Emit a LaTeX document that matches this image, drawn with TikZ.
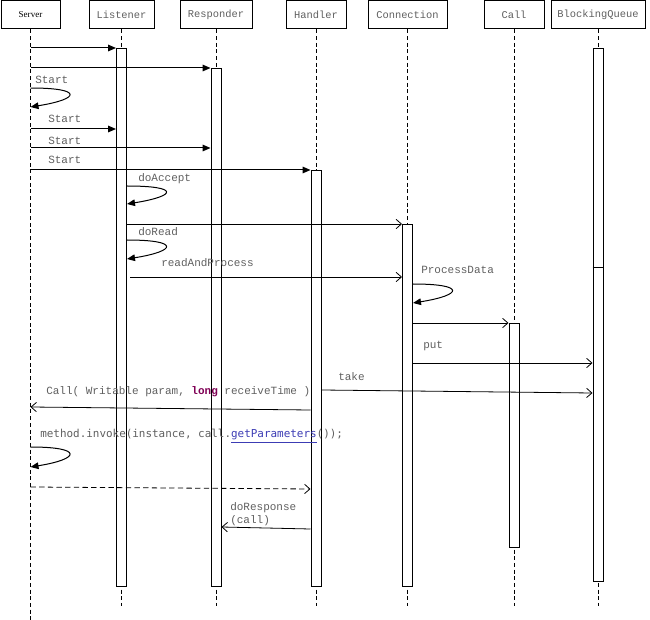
\documentclass[tikz,border=0pt]{standalone}
\usepackage{fontspec}
\setmainfont{Liberation Serif}
\setmonofont{Liberation Mono}
\newfontfamily\codefont{DejaVu Sans Mono}
\usetikzlibrary{arrows.meta}
\definecolor{msggray}{RGB}{95,95,95}
\definecolor{kwpurple}{RGB}{127,0,85}
\definecolor{linkblue}{RGB}{60,60,180}
\begin{document}
\begin{tikzpicture}[x=0.75pt,y=0.75pt,yscale=-1,xscale=1,
  obj/.style={draw,line width=0.75pt,minimum height=21pt,inner sep=0pt,font=\ttfamily\fontsize{7.8}{9}\selectfont,text=msggray},
  bar/.style={draw,fill=white,line width=0.75pt,minimum width=7.5pt,inner sep=0pt,anchor=north},
  lifeline/.style={line width=0.75pt,dash pattern=on 3pt off 2pt},
  sync/.style={line width=0.75pt,-{Triangle[length=6pt,width=5pt]}},
  async/.style={line width=0.6pt,-{Straight Barb[length=4pt,width=7pt]}},
  msg/.style={font=\ttfamily\fontsize{8.25}{9.4}\selectfont,text=msggray,inner sep=0pt,anchor=west}]
\useasboundingbox (0,0) rectangle (650,620);
\node[obj,minimum width=44.25pt,font=\rmfamily\fontsize{6.8}{8}\selectfont,text=black] (server) at (30.5,15) {Server};
\node[obj,minimum width=48.75pt] (listener) at (121.5,15) {Listener};
\node[obj,minimum width=54pt] (responder) at (216,15) {Responder};
\node[obj,minimum width=45pt] (handler) at (316,15) {Handler};
\node[obj,minimum width=59.25pt] (connection) at (407.5,15) {Connection};
\node[obj,minimum width=45pt] (call) at (514,15) {Call};
\node[obj,minimum width=70.5pt] (queue) at (598,15) {BlockingQueue};
\draw[lifeline] (server.south) -- ++(0,591);
\foreach \n in {listener,responder,handler,connection,call,queue}
  \draw[lifeline] (\n.south) -- ++(0,576);
\node[bar,minimum height=403.5pt] (listenerbar) at (listener.south |- 0,48) {};
\node[bar,minimum height=388.5pt] (responderbar) at (responder.south |- 0,68) {};
\node[bar,minimum height=312pt] (handlerbar) at (handler.south |- 0,170) {};
\node[bar,minimum height=271.5pt] (connectionbar) at (connection.south |- 0,224) {};
\node[bar,minimum height=168pt] (callbar) at (call.south |- 0,323) {};
\node[bar,minimum height=399.75pt] (queuebar) at (queue.south |- 0,48) {};
\draw[line width=0.75pt] (queuebar.west |- 0,268) -- (queuebar.east |- 0,268);
\draw[sync] (server.south |- listenerbar.north) -- (listenerbar.north west);
\draw[sync] (server.south |- responderbar.north) -- (responderbar.north west);
\node[msg] (start0) at (35,80) {Start};
\draw[sync] (server.south |- 0,88) .. controls +(53,0) and +(50,-8) .. (server.south |- 0,107);
\node[msg] (start1) at (48,119) {Start};
\draw[sync] (server.south |- 0,129) -- (listenerbar.west |- 0,129);
\node[msg] (start2) at (48,141) {Start};
\draw[sync] (server.south |- 0,148) -- (responderbar.west |- 0,148);
\node[msg] (start3) at (48,160) {Start};
\draw[sync] (server.south |- handlerbar.north) -- (handlerbar.north west);
\node[msg] (doaccept) at (138,179) {doAccept};
\draw[sync] (listenerbar.east |- 0,186) .. controls +(53,0) and +(50,-8) .. (listenerbar.east |- 0,204);
\draw[async] (listenerbar.east |- connectionbar.north) -- (connectionbar.north west);
\node[msg] (doread) at (138,231.5) {doRead};
\draw[sync] (listenerbar.east |- 0,240) .. controls +(53,0) and +(50,-8) .. (listenerbar.east |- 0,259);
\node[msg] (readproc) at (161,263) {readAndProcess};
\draw[async] ([xshift=2.25pt]listenerbar.east |- 0,277) -- (connectionbar.west |- 0,277);
\node[msg] (procdata) at (421,269.5) {ProcessData};
\draw[sync] (connectionbar.east |- 0,284) .. controls +(53,0) and +(50,-8) .. (connectionbar.east |- 0,303);
\draw[async] (connectionbar.east |- callbar.north) -- (callbar.north west);
\node[msg] (put) at (423,346) {put};
\draw[async] (connectionbar.east |- 0,363) -- (queuebar.west |- 0,363);
\node[msg] (take) at (338,377) {take};
\draw[async] (handlerbar.east |- 0,390) -- (queuebar.west |- 0,393);
\node[msg] (callmsg) at (46,391.5) {Call( Writable param, \textcolor{kwpurple}{\textbf{long}} receiveTime )};
\draw[async] (handlerbar.west |- 0,410) -- (server.south |- 0,407);
\node[msg,font=\codefont\fontsize{8.2}{9.4}\selectfont] (invoke) at (40,436) {method.invoke(instance, call.\textcolor{linkblue}{\underline{getParameters}}());};
\draw[sync] (server.south |- 0,447) .. controls +(53,0) and +(50,-8) .. (server.south |- 0,467);
\draw[async,dash pattern=on 4pt off 2.5pt] (server.south |- 0,487) -- (handlerbar.west |- 0,489);
\node[msg,align=left] (doresp) at (230,514) {doResponse\\(call)};
\draw[async] (handlerbar.west |- 0,529) -- (responderbar.east |- 0,527);
\end{tikzpicture}
\end{document}
